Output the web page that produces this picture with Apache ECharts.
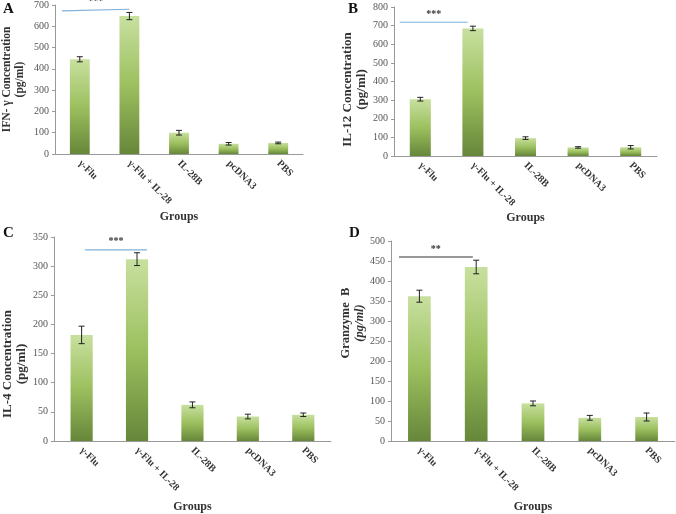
<!DOCTYPE html>
<html>
<head>
<meta charset="utf-8">
<script src="https://cdn.jsdelivr.net/npm/echarts@6/dist/echarts.min.js"></script>
<style>
html, body { margin: 0; padding: 0; background: #fff; }
#main { width: 676px; height: 514px; }
</style>
</head>
<body>
<div id="main"></div>
<script>
var groups = ['γ-Flu', 'γ-Flu + IL-28', 'IL-28B', 'pcDNA3', 'PBS'];

// A: IFN-γ
var ifnMean = [445, 648, 100, 48, 52];
var ifnErr = [12, 17, 11, 6, 4];
// B: IL-12
var il12Mean = [305, 685, 96, 46, 47];
var il12Err = [10, 12, 7, 4, 9];
// C: IL-4
var il4Mean = [182, 312, 62, 42, 45];
var il4Err = [15, 11, 5, 4, 3];
// D: Granzyme B
var grzMean = [362, 435, 94, 58, 60];
var grzErr = [15, 17, 6, 6, 10];

// significance bars: [start value, end value], stars
var sigA = [672, 680];
var sigB = [718, 718];
var sigC = [328, 328];
var sigD = [460, 460];
var starsA = '***', starsB = '***', starsC = '***', starsD = '**';

// y axis max / interval
var yMax = [700, 800, 350, 500];
var yStep = [100, 100, 50, 50];

var SERIF = '"Liberation Serif", "DejaVu Serif", serif';

var barColor = new echarts.graphic.LinearGradient(0, 0, 0, 1, [
	{ offset: 0, color: '#c8e09f' },
	{ offset: 0.5, color: '#9cc05f' },
	{ offset: 1, color: '#66873a' }
]);

/**
 * 误差线
 */
function errRender(params, api) {
	var x = api.value(0);
	var v = api.value(1);
	var e = api.value(2);
	var top = api.coord([x, v + e]);
	var bot = api.coord([x, v - e]);
	var cap = 3;
	var st = { stroke: '#222', lineWidth: 1 };
	return {
		type: 'group',
		children: [
			{ type: 'line', shape: { x1: top[0], y1: top[1], x2: bot[0], y2: bot[1] }, style: st },
			{ type: 'line', shape: { x1: top[0] - cap, y1: top[1], x2: top[0] + cap, y2: top[1] }, style: st },
			{ type: 'line', shape: { x1: bot[0] - cap, y1: bot[1], x2: bot[0] + cap, y2: bot[1] }, style: st }
		]
	};
}

/**
 * 显著性标记线
 */
function sigRender(from, to, color) {
	return function(params, api) {
		var band = api.size([1, 0])[0];
		var p0 = api.coord([0, api.value(0)]);
		var p1 = api.coord([1, api.value(1)]);
		var x0 = p0[0] + from * band;
		var x1 = p1[0] + to * band;
		return {
			type: 'group',
			children: [
				{ type: 'line', shape: { x1: x0, y1: p0[1], x2: x1, y2: p1[1] }, style: { stroke: color, lineWidth: 1.2 } },
				{ type: 'text', style: { text: api.value(2), x: (x0 + x1) / 2, y: Math.min(p0[1], p1[1]) - 3,
					align: 'center', verticalAlign: 'bottom', font: 'bold 10px ' + SERIF, fill: '#333' } }
			]
		};
	};
}

var grids = [
	{ left: 48, top: 4, width: 255, height: 150 },
	{ left: 394, top: 7, width: 263, height: 149 },
	{ left: 49, top: 237, width: 282, height: 212 },
	{ left: 391, top: 241, width: 284, height: 211 }
];

var yNames = [
	'IFN- γ Concentration\n(pg/ml)',
	'IL-12 Concentration\n(pg/ml)',
	'IL-4 Concentration\n(pg/ml)',
	'Granzyme  B\n{i|(pg/ml)}'
];
var yNameGaps = [29, 22, 22, 24];
var yNameSize = [11.5, 13, 13, 12.5];
// padding 调整标题沿轴方向的偏移
var yNamePad = [[0, 0, 0, 0], [0, 16, 0, 0], [0, 50, 0, 0], [0, 0, 0, 36]];
var groupsGap = [57, 56, 60, 60];

var means = [ifnMean, il12Mean, il4Mean, grzMean];
var errs = [ifnErr, il12Err, il4Err, grzErr];
var sigs = [sigA, sigB, sigC, sigD];
var stars = [starsA, starsB, starsC, starsD];
var sigSpan = [[-0.36, 0], [-0.39, -0.1], [0.06, 0.18], [-0.36, -0.06]];
var sigColor = ['#7fb0d8', '#7fb0d8', '#7fb0d8', '#333333'];

var xAxes = [], yAxes = [], series = [];
for (var i = 0; i < 4; i++) {
	xAxes.push({
		type: 'category', gridIndex: i, data: groups,
		name: 'Groups', nameLocation: 'middle', nameGap: groupsGap[i],
		nameTextStyle: { fontFamily: SERIF, fontWeight: 'bold', fontSize: 12, color: '#333' },
		axisLine: { lineStyle: { color: '#999' } },
		axisTick: { lineStyle: { color: '#999' }, length: 3 },
		axisLabel: { rotate: -45, fontFamily: SERIF, fontWeight: 'bold', fontSize: 10, color: '#333', margin: 8, interval: 0 }
	});
	yAxes.push({
		type: 'value', gridIndex: i, min: 0, max: yMax[i], interval: yStep[i],
		name: yNames[i], nameLocation: 'middle', nameRotate: 90, nameGap: yNameGaps[i],
		nameTextStyle: { fontFamily: SERIF, fontWeight: 'bold', fontSize: yNameSize[i], color: '#333',
			lineHeight: yNameSize[i] + 1, padding: yNamePad[i],
			rich: { i: { fontFamily: SERIF, fontWeight: 'bold', fontStyle: 'italic', fontSize: yNameSize[i], color: '#333' } } },
		splitLine: { show: false },
		axisLine: { show: true, lineStyle: { color: '#999' } },
		axisTick: { show: true, length: 3, lineStyle: { color: '#999' } },
		axisLabel: { fontFamily: SERIF, fontSize: 10, color: '#555', margin: 6 }
	});
	series.push({
		type: 'bar', xAxisIndex: i, yAxisIndex: i, data: means[i],
		barWidth: '40%', itemStyle: { color: barColor }
	});
	var ed = [];
	for (var k = 0; k < means[i].length; k++) {
		ed.push([k, means[i][k], errs[i][k]]);
	}
	series.push({
		type: 'custom', xAxisIndex: i, yAxisIndex: i, data: ed,
		renderItem: errRender, z: 5
	});
	series.push({
		type: 'custom', xAxisIndex: i, yAxisIndex: i,
		data: [[sigs[i][0], sigs[i][1], stars[i]]],
		renderItem: sigRender(sigSpan[i][0], sigSpan[i][1], sigColor[i]), z: 6, clip: false
	});
}

var letterStyle = { font: 'bold 15px ' + SERIF, fill: '#111' };
var myChart = echarts.init(document.getElementById('main'));
myChart.setOption({
	animation: false,
	grid: grids,
	xAxis: xAxes,
	yAxis: yAxes,
	series: series,
	graphic: [
		{ type: 'text', left: 3, top: 2, style: Object.assign({ text: 'A' }, letterStyle) },
		{ type: 'text', left: 348, top: 2, style: Object.assign({ text: 'B' }, letterStyle) },
		{ type: 'text', left: 3, top: 226, style: Object.assign({ text: 'C' }, letterStyle) },
		{ type: 'text', left: 349, top: 226, style: Object.assign({ text: 'D' }, letterStyle) }
	]
});
</script>
</body>
</html>
